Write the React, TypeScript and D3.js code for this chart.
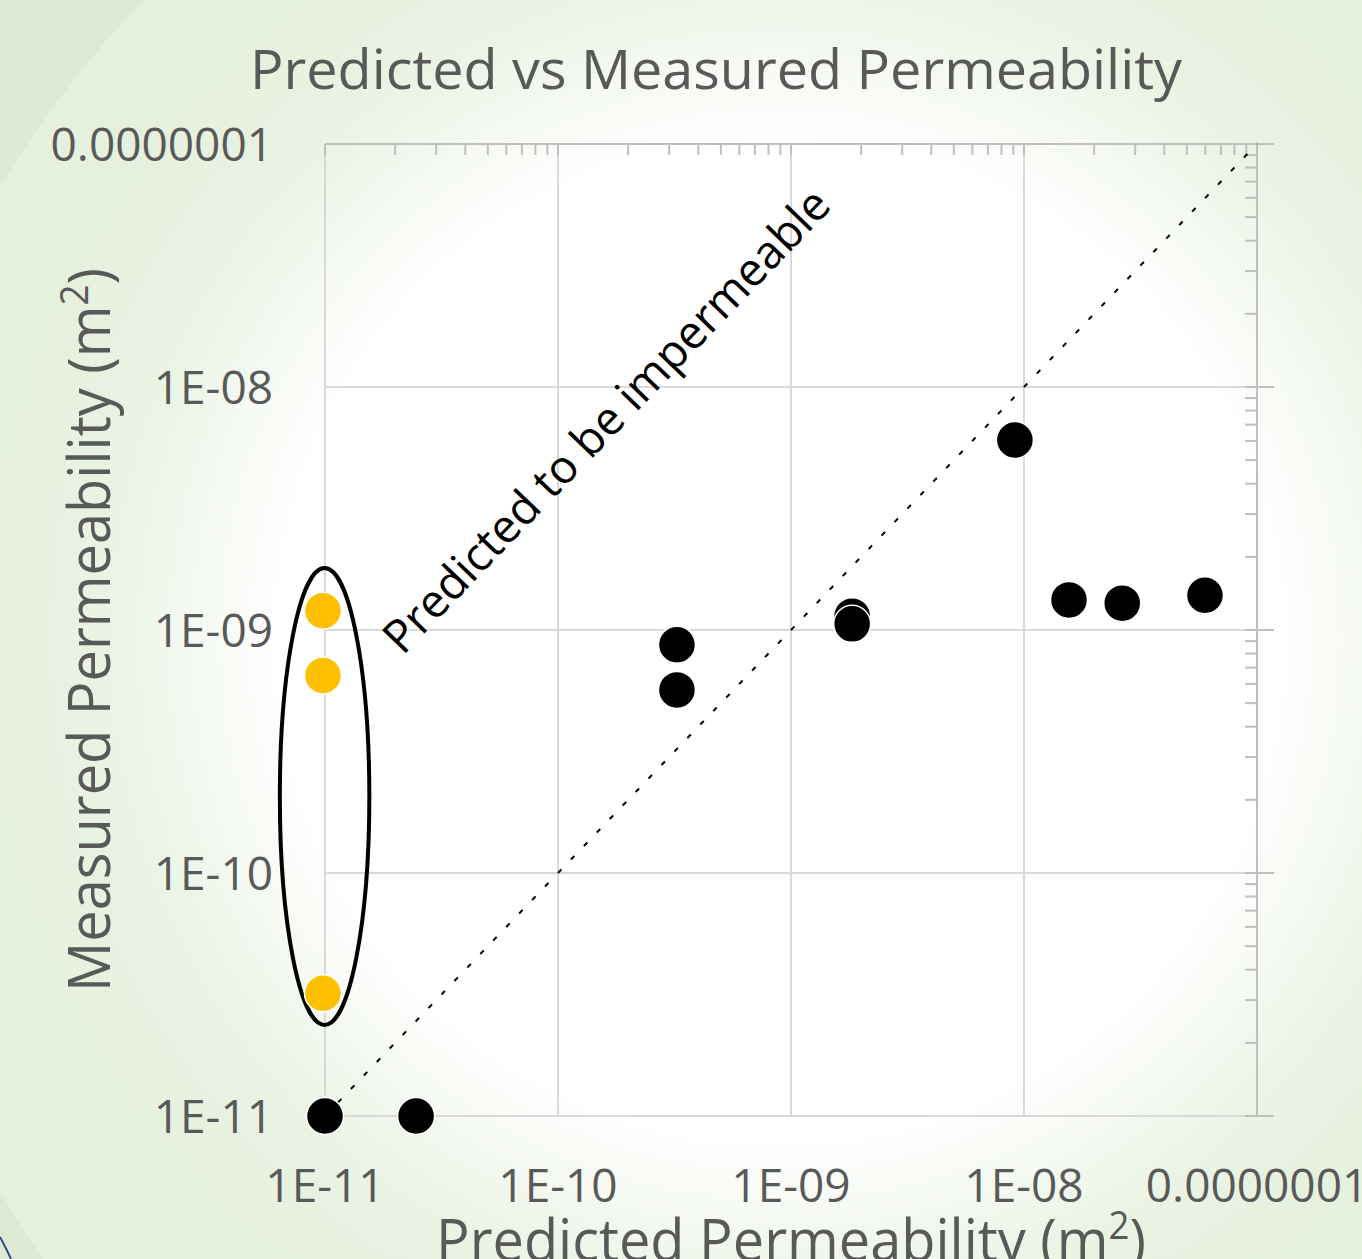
import React, { useEffect } from "react";
import * as d3 from "d3";

// ---- data (m^2) ----
const blackPredicted = [1e-11, 2.46e-11, 3.24e-10, 3.24e-10, 1.83e-9, 1.83e-9, 9.14e-9, 1.56e-8, 2.64e-8, 5.98e-8];
const blackMeasured = [1e-11, 1e-11, 8.7e-10, 5.67e-10, 1.14e-9, 1.06e-9, 6.05e-9, 1.33e-9, 1.29e-9, 1.39e-9];
const yellowPredicted = [9.8e-12, 9.8e-12, 9.8e-12];
const yellowMeasured = [1.2e-9, 6.5e-10, 3.2e-11];
const majorTicks = [1e-11, 1e-10, 1e-9, 1e-8, 1e-7];
const tickLabels = ["1E-11", "1E-10", "1E-09", "1E-08", "0.0000001"];
const minorMultipliers = [2, 3, 4, 5, 6, 7, 8, 9];
const minorDecades = [1e-11, 1e-10, 1e-9, 1e-8];
const parityLine = [1e-11, 1e-7];
// annotation ellipse extents (data units)
const ellipseX = [6.4e-12, 1.55e-11];
const ellipseY = [2.37e-11, 1.8e-9];
// annotation text centre (data units)
const annotationAt = [1.59e-10, 7.37e-9];
const annotationText = "Predicted to be impermeable";

const W = 1362;
const H = 1259;
const FONT = "'Open Sans', 'Noto Sans', sans-serif";
const TXT = "#595959";

export default function App() {
  useEffect(() => {
    document.body.style.margin = "0";
  }, []);

  const x = d3.scaleLog().domain([1e-11, 1e-7]).range([325, 1257]);
  const y = d3.scaleLog().domain([1e-11, 1e-7]).range([1116, 144]);
  const [x0, x1] = x.range();
  const [y0, y1] = y.range();

  const minors: number[] = [];
  minorDecades.forEach((d) => minorMultipliers.forEach((k) => minors.push(k * d)));

  const lineGen = d3
    .line<number>()
    .x((v) => x(v))
    .y((v) => y(v));

  const ecx = (x(ellipseX[0]) + x(ellipseX[1])) / 2;
  const erx = (x(ellipseX[1]) - x(ellipseX[0])) / 2;
  const ecy = (y(ellipseY[0]) + y(ellipseY[1])) / 2;
  const ery = (y(ellipseY[0]) - y(ellipseY[1])) / 2;

  const angle = (-Math.atan2(y0 - y1, x1 - x0) * 180) / Math.PI;
  const annX = x(annotationAt[0]);
  const annY = y(annotationAt[1]);

  return (
    <svg
      width={W}
      height={H}
      style={{ position: "absolute", left: 0, top: 0, display: "block" }}
      fontFamily={FONT}
    >
      <defs>
        <radialGradient id="bg" gradientUnits="userSpaceOnUse" cx={780} cy={640} r={800}>
          <stop offset="0" stopColor="#ffffff" />
          <stop offset="0.62" stopColor="#ffffff" />
          <stop offset="0.84" stopColor="#eaf3e4" />
          <stop offset="1" stopColor="#e6f0de" />
        </radialGradient>
      </defs>
      <rect x={0} y={0} width={W} height={H} fill="#dfead4" />
      <circle cx={851} cy={690} r={988} fill="url(#bg)" />
      <path d="M0,1237 Q6,1248 11,1259" fill="none" stroke="#2e4a8a" strokeWidth={2} />

      {/* gridlines */}
      {majorTicks.map((t, i) => (
        <line key={"gx" + i} x1={x(t)} x2={x(t)} y1={y1} y2={y0} stroke="#d9d9d9" strokeWidth={2} />
      ))}
      {majorTicks.map((t, i) => (
        <line key={"gy" + i} x1={x0} x2={x1} y1={y(t)} y2={y(t)} stroke="#d9d9d9" strokeWidth={2} />
      ))}

      {/* top axis */}
      <line x1={x0} x2={x1} y1={y1} y2={y1} stroke="#bfbfbf" strokeWidth={2} />
      {majorTicks.map((t, i) => (
        <line key={"tM" + i} x1={x(t)} x2={x(t)} y1={y1} y2={y1 + 11} stroke="#bfbfbf" strokeWidth={2} />
      ))}
      {minors.map((t, i) => (
        <line key={"tm" + i} x1={x(t)} x2={x(t)} y1={y1} y2={y1 + 11} stroke="#bfbfbf" strokeWidth={2} />
      ))}

      {/* right axis */}
      <line x1={x1} x2={x1} y1={y1} y2={y0} stroke="#bfbfbf" strokeWidth={2} />
      {majorTicks.map((t, i) => (
        <line key={"rM" + i} x1={x1 - 12} x2={x1 + 17} y1={y(t)} y2={y(t)} stroke="#bfbfbf" strokeWidth={2} />
      ))}
      {minors.map((t, i) => (
        <line key={"rm" + i} x1={x1 - 12} x2={x1} y1={y(t)} y2={y(t)} stroke="#bfbfbf" strokeWidth={2} />
      ))}

      {/* tick labels */}
      {majorTicks.map((t, i) => (
        <text key={"ly" + i} x={273} y={y(t) + 17} textAnchor="end" fontSize={46} fill={TXT}>
          {tickLabels[i]}
        </text>
      ))}
      {majorTicks.map((t, i) => (
        <text key={"lx" + i} x={x(t)} y={1202} textAnchor="middle" fontSize={46} fill={TXT}>
          {tickLabels[i]}
        </text>
      ))}

      {/* parity line */}
      <path
        d={lineGen(parityLine) || ""}
        fill="none"
        stroke="#000"
        strokeWidth={2}
        strokeDasharray="5 13.7"
      />

      {/* ellipse annotation */}
      <ellipse cx={ecx} cy={ecy} rx={erx} ry={ery} fill="none" stroke="#000" strokeWidth={4} />

      {/* points */}
      {yellowPredicted.map((v, i) => (
        <circle key={"yp" + i} cx={x(v)} cy={y(yellowMeasured[i])} r={18.5} fill="#ffc000" stroke="#ffffff" strokeWidth={1.5} />
      ))}
      {blackPredicted.map((v, i) => (
        <circle key={"bp" + i} cx={x(v)} cy={y(blackMeasured[i])} r={18.5} fill="#000000" stroke="#ffffff" strokeWidth={1.5} />
      ))}

      {/* rotated annotation text */}
      <text
        x={0}
        y={0}
        transform={`translate(${annX},${annY}) rotate(${angle})`}
        textAnchor="middle"
        dominantBaseline="central"
        fontSize={46}
        fill="#000"
        textLength={622}
        lengthAdjust="spacingAndGlyphs"
      >
        {annotationText}
      </text>

      {/* title */}
      <text x={716} y={89} textAnchor="middle" fontSize={55} fill={TXT} textLength={932} lengthAdjust="spacingAndGlyphs">
        Predicted vs Measured Permeability
      </text>

      {/* x axis title */}
      <text
        x={(x0 + x1) / 2}
        y={1261}
        textAnchor="middle"
        fontSize={58}
        fill={TXT}
        textLength={710}
        lengthAdjust="spacingAndGlyphs"
      >
        Predicted Permeability (m<tspan fontSize={38} dy={-22}>2</tspan>
        <tspan dy={22}>)</tspan>
      </text>

      {/* y axis title */}
      <text
        transform={`translate(110,${(y0 + y1) / 2}) rotate(-90)`}
        textAnchor="middle"
        fontSize={58}
        fill={TXT}
        textLength={724}
        lengthAdjust="spacingAndGlyphs"
      >
        Measured Permeability (m<tspan fontSize={38} dy={-22}>2</tspan>
        <tspan dy={22}>)</tspan>
      </text>
    </svg>
  );
}
